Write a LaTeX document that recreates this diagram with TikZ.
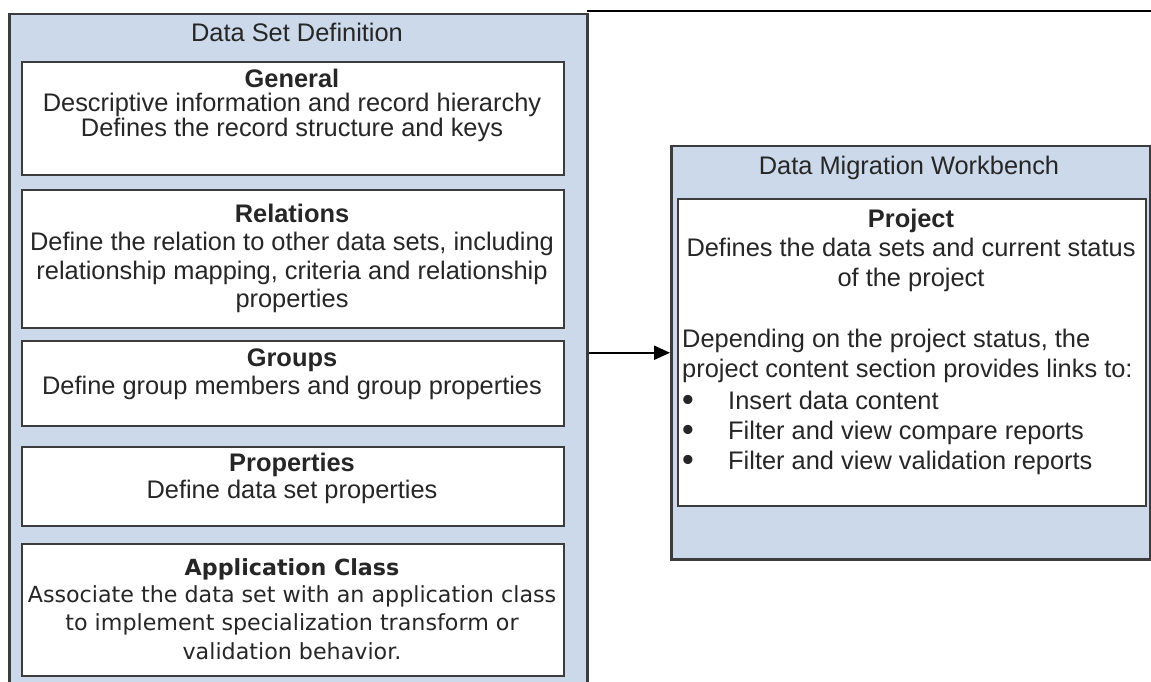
\documentclass[tikz,border=0pt]{standalone}
\usepackage{fontspec}
\setmainfont{Liberation Sans}
\newfontfamily\tahomalike{DejaVu Sans}
\usetikzlibrary{arrows.meta}
\definecolor{boxblue}{RGB}{204,217,234}
\definecolor{edge}{RGB}{60,60,60}
\tikzset{
  outerbox/.style={draw=edge, line width=2.5pt, fill=boxblue, rectangle, inner sep=0pt, anchor=north west},
  innerbox/.style={draw=edge, line width=2pt, fill=white, rectangle, inner sep=0pt, anchor=north west},
  txt/.style={inner sep=0pt, anchor=base, font=\fontsize{25.4}{29}\selectfont, text=black!85},
  ttl/.style={txt, font=\fontsize{25.4}{29}\selectfont\bfseries},
  ltxt/.style={txt, anchor=base west},
  bul/.style={txt, font=\fontsize{32}{29}\selectfont\bfseries},
  apptxt/.style={inner sep=0pt, anchor=base, font=\tahomalike\fontsize{22.2}{26}\selectfont, text=black!85},
  appttl/.style={apptxt, font=\tahomalike\fontsize{22.2}{26}\selectfont\bfseries},
  conn/.style={line width=2.2pt, -{Triangle[length=16pt,width=14pt]}}
}
\begin{document}
\begin{tikzpicture}[x=1pt,y=-1pt]
\useasboundingbox (0,0) rectangle (1151,682);
\clip (0,0) rectangle (1151,682);
\fill[white] (0,0) rectangle (1151,682);
% top rule
\coordinate (rl) at (587,11);
\coordinate (rr) at (1151,11);
\draw[line width=1.5pt, black] (rl) -- (rr);
% left container
\node[outerbox, minimum width=578pt, minimum height=690pt] (dsdbox) at (8,13) {};
\node[txt] (dsd) at (297,42) {Data Set Definition};
% inner boxes
\node[innerbox, minimum width=542pt, minimum height=113pt] (genbox) at (21,61) {};
\node[innerbox, minimum width=542pt, minimum height=138pt] (relbox) at (21,189) {};
\node[innerbox, minimum width=542pt, minimum height=85pt] (grpbox) at (21,340) {};
\node[innerbox, minimum width=542pt, minimum height=79pt] (prpbox) at (21,446) {};
\node[innerbox, minimum width=542pt, minimum height=132pt] (appbox) at (21,543) {};
% General
\node[ttl] (gen0) at (292,88) {General};
\node[txt] (gen1) at (292,112) {Descriptive information and record hierarchy};
\node[txt] (gen2) at (292,137) {Defines the record structure and keys};
% Relations
\node[ttl] (rel0) at (292,222) {Relations};
\node[txt] (rel1) at (292,250) {Define the relation to other data sets, including};
\node[txt] (rel2) at (292,279) {relationship mapping, criteria and relationship};
\node[txt] (rel3) at (292,307) {properties};
% Groups
\node[ttl] (grp0) at (292,366) {Groups};
\node[txt] (grp1) at (292,394) {Define group members and group properties};
% Properties
\node[ttl] (prp0) at (292,471) {Properties};
\node[txt] (prp1) at (292,498) {Define data set properties};
% Application Class
\node[appttl] (app0) at (292,575) {Application Class};
\node[apptxt] (app1) at (292,602) {Associate the data set with an application class};
\node[apptxt] (app2) at (292,630) {to implement specialization transform or};
\node[apptxt] (app3) at (292,659) {validation behavior.};
% right container
\node[outerbox, minimum width=479pt, minimum height=413pt] (dmwbox) at (670,145) {};
\node[txt] (dmw) at (909,174) {Data Migration Workbench};
\node[innerbox, minimum width=468pt, minimum height=307pt] (prjbox) at (677,198) {};
\node[ttl] (prj0) at (911,227) {Project};
\node[txt] (prj1) at (911,256) {Defines the data sets and current status};
\node[txt] (prj2) at (911,286) {of the project};
\node[ltxt] (prj3) at (682,347) {Depending on the project status, the};
\node[ltxt] (prj4) at (682,377) {project content section provides links to:};
\node[bul] (b1) at (688,410) {•};
\node[ltxt] (bt1) at (728,409) {Insert data content};
\node[bul] (b2) at (688,440) {•};
\node[ltxt] (bt2) at (728,439) {Filter and view compare reports};
\node[bul] (b3) at (688,470) {•};
\node[ltxt] (bt3) at (728,469) {Filter and view validation reports};
% connector
\draw[conn] (dmwbox.west -| dsdbox.east) -- (dmwbox.west);
\end{tikzpicture}
\end{document}
